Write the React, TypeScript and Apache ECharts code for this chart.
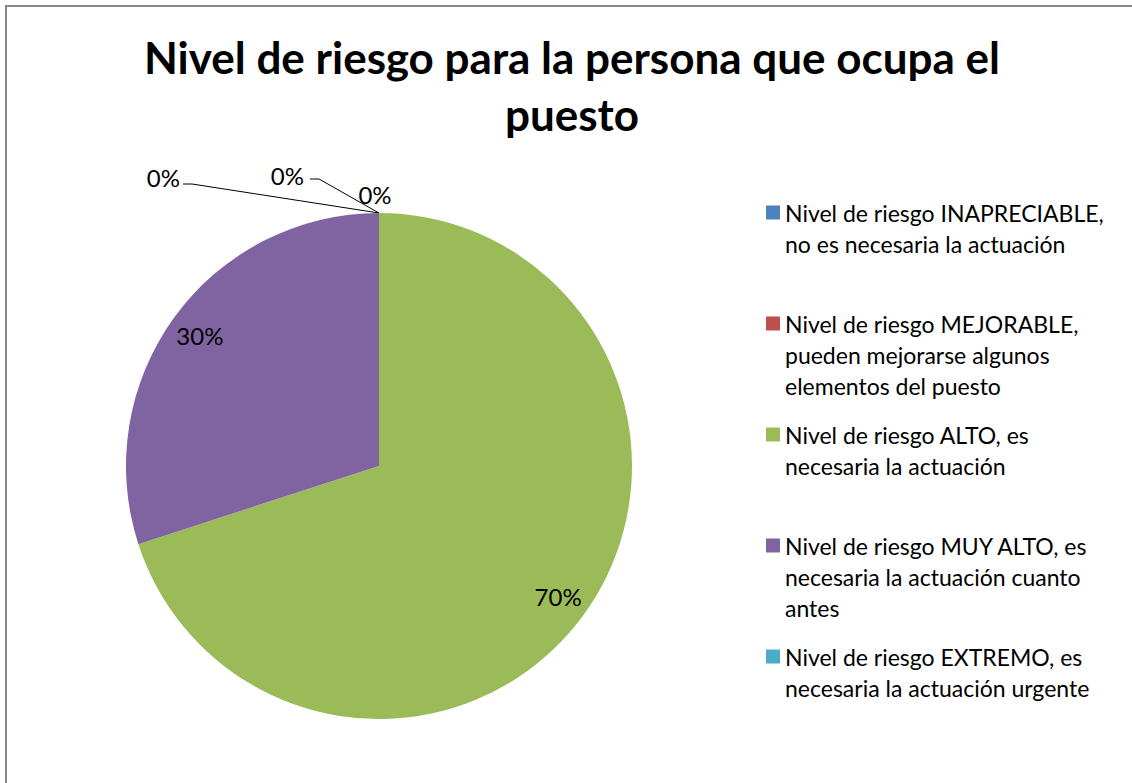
import React, { useEffect, useRef } from 'react';
import * as echarts from 'echarts';

const titleText = 'Nivel de riesgo para la persona que ocupa el\npuesto';
const categories = [
  'Nivel de riesgo INAPRECIABLE, no es necesaria la actuación',
  'Nivel de riesgo MEJORABLE, pueden mejorarse algunos elementos del puesto',
  'Nivel de riesgo ALTO, es necesaria la actuación',
  'Nivel de riesgo MUY ALTO, es necesaria la actuación cuanto antes',
  'Nivel de riesgo EXTREMO, es necesaria la actuación urgente',
];
const legendLines = [
  ['Nivel de riesgo INAPRECIABLE,', 'no es necesaria la actuación'],
  ['Nivel de riesgo MEJORABLE,', 'pueden mejorarse algunos', 'elementos del puesto'],
  ['Nivel de riesgo ALTO, es', 'necesaria la actuación'],
  ['Nivel de riesgo MUY ALTO, es', 'necesaria la actuación cuanto', 'antes'],
  ['Nivel de riesgo EXTREMO, es', 'necesaria la actuación urgente'],
];
const values = [0, 0, 70, 30, 0];
const colors = ['#4F81BD', '#C0504D', '#9BBB59', '#8064A2', '#4BACC6'];

const FONT = 'Lato';
const CX = 379;
const CY = 466;
const R = 253;
const INSIDE_FACTOR = 1.71;

export default function App() {
  const ref = useRef<HTMLDivElement>(null);
  useEffect(() => {
    if (!ref.current) return;
    const chart = echarts.init(ref.current, undefined, { renderer: 'svg' });
    const rich: Record<string, any> = {
      gap: { width: 5 },
      ind: { width: 19 },
      t: { fontFamily: FONT, fontSize: 23, lineHeight: 31, color: '#000' },
    };
    colors.forEach((c, i) => {
      rich['s' + i] = { width: 14, height: 14, backgroundColor: c };
    });
    chart.setOption({
      animation: false,
      backgroundColor: 'transparent',
      title: {
        text: titleText,
        left: 572,
        textAlign: 'center',
        top: 28,
        padding: 0,
        textStyle: {
          fontFamily: FONT,
          fontWeight: 'bold',
          fontSize: 44,
          lineHeight: 57,
          color: '#000',
        },
      },
      legend: {
        orient: 'vertical',
        left: 761,
        top: 201,
        padding: 0,
        itemWidth: 0,
        itemHeight: 0,
        itemGap: 26,
        selectedMode: false,
        data: categories,
        formatter: (name: string) => {
          const i = categories.indexOf(name);
          const lines = legendLines[i].slice();
          while (lines.length < 3) lines.push(' ');
          return (
            `{s${i}|}{gap|}{t|${lines[0]}}` +
            lines
              .slice(1)
              .map((l) => `\n{ind|}{t|${l}}`)
              .join('')
          );
        },
        textStyle: { rich },
      },
      series: [
        {
          type: 'pie',
          center: [CX, CY],
          radius: R,
          startAngle: 90,
          clockwise: true,
          avoidLabelOverlap: false,
          emphasis: { disabled: true },
          itemStyle: { borderWidth: 0 },
          label: {
            formatter: '{d}%',
            fontFamily: FONT,
            fontSize: 24,
            color: '#000',
          },
          labelLine: {
            length: 10,
            length2: 10,
            lineStyle: { color: '#000', width: 1 },
          },
          data: categories.map((n, i) => ({
            name: n,
            value: values[i],
            itemStyle: { color: colors[i] },
            label: { position: values[i] > 0 ? 'inside' : 'outside' },
            labelLine: { show: values[i] === 0 },
          })),
          labelLayout: (p: any) => {
            const i = p.dataIndex;
            if (values[i] > 0) {
              const lx = p.labelRect.x + p.labelRect.width / 2;
              const ly = p.labelRect.y + p.labelRect.height / 2;
              return {
                x: CX + (lx - CX) * INSIDE_FACTOR,
                y: CY + (ly - CY) * INSIDE_FACTOR,
                align: 'center',
                verticalAlign: 'middle',
              };
            }
            const ax = CX;
            const ay = CY - R;
            if (i === 0) {
              return {
                x: ax - 199,
                y: ay - 36,
                align: 'right',
                verticalAlign: 'middle',
                labelLinePoints: [
                  [ax, ay],
                  [ax - 187, ay - 29],
                  [ax - 196, ay - 29],
                ],
              };
            }
            if (i === 1) {
              return {
                x: ax - 75,
                y: ay - 38,
                align: 'right',
                verticalAlign: 'middle',
                labelLinePoints: [
                  [ax, ay],
                  [ax - 60, ay - 34],
                  [ax - 69, ay - 34],
                ],
              };
            }
            return {
              x: ax - 4,
              y: ay - 19,
              align: 'center',
              verticalAlign: 'middle',
              labelLinePoints: [
                [ax, ay],
                [ax, ay],
                [ax, ay],
              ],
            };
          },
        },
      ],
    });
    return () => chart.dispose();
  }, []);
  return (
    <div
      style={{
        position: 'fixed',
        left: 0,
        top: 0,
        width: 1132,
        height: 783,
        background: '#fff',
        overflow: 'hidden',
      }}
    >
      <div
        style={{
          position: 'absolute',
          left: 5,
          top: 5,
          width: 1200,
          height: 900,
          border: '2px solid #888',
        }}
      />
      <div
        ref={ref}
        style={{ position: 'absolute', left: 0, top: 0, width: 1132, height: 783 }}
      />
    </div>
  );
}
